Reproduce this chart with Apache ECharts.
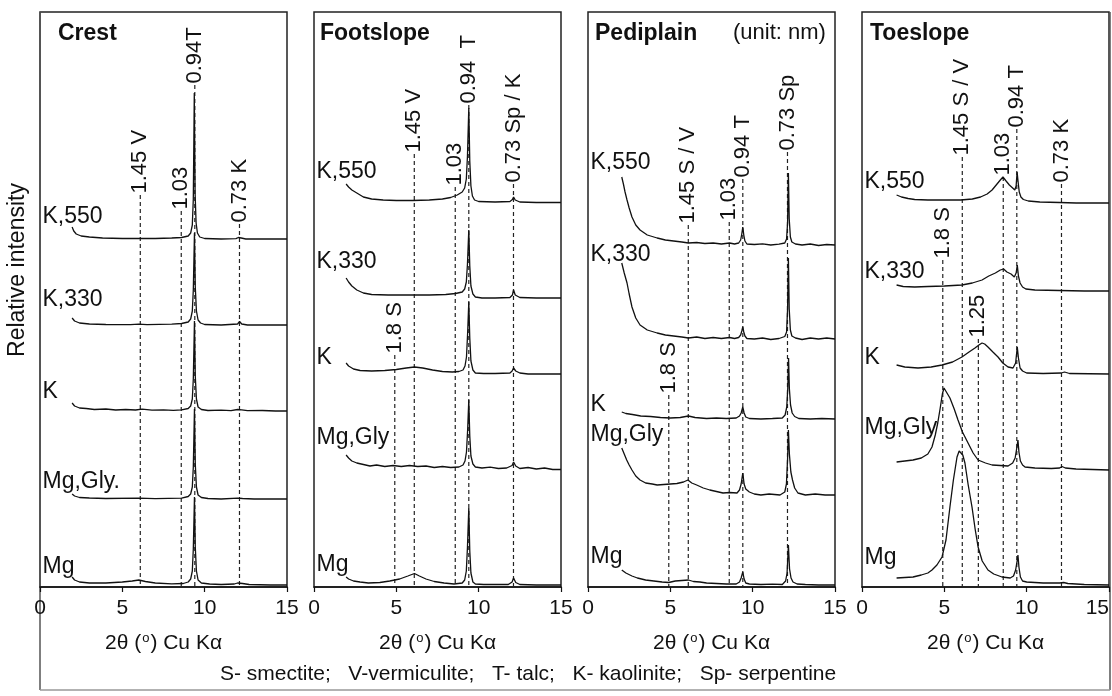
<!DOCTYPE html>
<html>
<head>
<meta charset="utf-8">
<script src="https://cdn.jsdelivr.net/npm/echarts@6/dist/echarts.min.js"></script>
<style>
html, body { margin: 0; padding: 0; background: #fff; }
#chart { width: 1112px; height: 696px; }
</style>
</head>
<body>
<div id="chart"></div>
<script>
// X-ray diffraction patterns of the clay fraction at four landscape positions.
// Each trace is [2θ (degrees), relative intensity above its stacking offset].

const panelNames = ['Crest', 'Footslope', 'Pediplain', 'Toeslope'];
const treatmentNames = [
  ['Mg', 'Mg,Gly.', 'K', 'K,330', 'K,550'],
  ['Mg', 'Mg,Gly', 'K', 'K,330', 'K,550'],
  ['Mg', 'Mg,Gly', 'K', 'K,330', 'K,550'],
  ['Mg', 'Mg,Gly', 'K', 'K,330', 'K,550']
];
const xTicks = [0, 5, 10, 15];

// stacking offsets of the five treatments (bottom to top), per panel
const crestOffsets     = [2, 88, 176, 262, 348];
const footslopeOffsets = [2, 119, 214, 291, 386];
const pediplainOffsets = [2, 93, 168, 248, 342];
const toeslopeOffsets  = [2, 117, 214, 297, 385];

// ---- Crest ----
const crestMg = [[1.95,8],[2.1,5],[2.4,3],[3,2],[4,2],[5,3],[5.6,4],[6,5],[6.4,3.5],[7,2],[8,1.2],[8.7,1.5],[9.0,3],[9.15,6],[9.25,14],[9.31,36],[9.38,88],[9.43,38],[9.5,14],[9.6,5],[9.8,2],[10.3,1],[11,0.5],[11.8,1],[12.0,2],[12.12,3.5],[12.3,1.5],[12.7,0.5],[14,0],[15,0]];
const crestMgGly = [[1.95,5],[2.1,3],[2.4,1.5],[3,1],[4,0.5],[6,0.8],[7,0.3],[8.6,0.8],[9.0,2.5],[9.15,5],[9.25,12],[9.31,32],[9.38,90],[9.43,35],[9.5,12],[9.6,4],[9.8,1.5],[10.2,0.5],[11,0],[12.0,0.8],[12.12,2],[12.3,0.5],[13,0],[15,0]];
const crestK = [[1.95,8],[2.1,5],[2.4,3],[2.8,2.5],[3.3,1.5],[4,2],[4.6,1],[5.2,1.5],[5.8,1],[6.2,1.8],[6.8,0.8],[7.5,1.2],[8.1,0.6],[8.6,1.2],[9.0,2.5],[9.15,5],[9.25,12],[9.31,32],[9.38,90],[9.43,35],[9.5,12],[9.6,4],[9.8,1.5],[10.2,0.5],[11,0.8],[11.6,0.3],[12.0,1.5],[12.12,3.5],[12.25,1.2],[12.6,0.3],[13.5,0.5],[14.3,0],[15,0]];
const crestK330 = [[1.95,7],[2.1,4],[2.4,2],[3,1],[4,0.5],[5.5,0.3],[6,0.8],[6.5,0.3],[8,0.8],[8.6,1.5],[9.0,3],[9.15,6],[9.25,14],[9.31,35],[9.38,92],[9.43,38],[9.5,14],[9.6,5],[9.75,2],[10,0.5],[11,0],[12.0,1],[12.12,3.5],[12.25,1],[12.6,0],[15,0]];
const crestK550 = [[1.95,12],[2.05,8],[2.2,5],[2.5,3],[3.0,2],[3.8,1],[5,0.5],[6,0.5],[7,0.5],[8,1],[8.6,1.5],[9.0,3],[9.15,6],[9.25,14],[9.31,40],[9.37,146],[9.42,45],[9.48,16],[9.56,6],[9.7,2],[10,0.5],[11,0],[11.9,0.3],[12.05,1.5],[12.12,3],[12.22,1],[12.5,0],[13.5,0],[15,0]];

// ---- Footslope ----
const footMg = [[1.95,8],[2.1,6],[2.4,4],[2.8,3],[3.3,2],[4,2.5],[4.6,4],[5.2,6],[5.7,9],[6.1,11.5],[6.4,9],[6.8,6],[7.3,3.5],[7.9,2],[8.5,1],[9.0,2],[9.15,5],[9.25,14],[9.32,38],[9.4,77],[9.46,34],[9.53,12],[9.65,3],[9.8,1],[10.3,0.5],[11,0.5],[11.8,0.5],[12.03,3],[12.12,7],[12.25,2.5],[12.5,0.5],[13.5,0],[15,0]];
const footMgGly = [[1.95,13],[2.1,10],[2.3,7],[2.6,5],[3.0,3.5],[3.4,2],[3.8,3],[4.3,1.5],[4.8,2.5],[5.3,1.5],[5.8,2.5],[6.3,1.5],[6.8,2],[7.3,0.5],[7.8,1.5],[8.3,0.5],[8.8,1],[9.05,3],[9.17,7],[9.26,16],[9.33,38],[9.4,68],[9.46,32],[9.53,12],[9.65,4],[9.8,1],[10.2,0],[10.7,0.8],[11.2,-0.5],[11.7,0],[12.03,2.5],[12.12,6],[12.25,2],[12.5,-0.5],[13,0.5],[13.5,-1],[14,0],[14.5,-1.5],[15,-1.5]];
const footK = [[1.95,10],[2.1,7],[2.4,4],[2.8,2.5],[3.5,2],[4.3,2.5],[5,3.5],[5.6,5],[6.1,6],[6.6,5],[7.2,3],[7.8,1.5],[8.4,1],[8.8,1.5],[9.05,3],[9.17,7],[9.26,16],[9.33,40],[9.4,71],[9.46,35],[9.53,12],[9.65,3],[9.8,0],[10.3,-0.5],[11,-0.5],[11.9,0],[12.03,2],[12.12,5],[12.25,2],[12.5,0],[13,-1],[15,-1]];
const footK330 = [[1.95,18],[2.1,14],[2.3,10],[2.6,6],[3.0,3],[3.5,1.5],[4.5,1],[6,1],[7,1],[8,1.5],[8.6,2.5],[9.0,4],[9.15,7],[9.25,14],[9.32,32],[9.4,66],[9.46,30],[9.53,10],[9.65,2],[9.8,-1],[10.2,-2],[11,-2],[11.9,-1.5],[12.05,1],[12.12,6],[12.22,1],[12.5,-1.5],[13.5,-2],[15,-2]];
const footK550 = [[1.95,17],[2.1,14],[2.3,11],[2.6,8],[3.0,4],[3.5,2],[4.2,1],[5,0.5],[6,0.5],[7,1],[7.8,2],[8.3,3.5],[8.7,6],[9.0,9],[9.15,13],[9.25,22],[9.32,45],[9.4,93],[9.46,40],[9.53,15],[9.62,5],[9.75,1],[10,-0.5],[11,-1],[11.9,-0.5],[12.05,1.5],[12.12,4],[12.22,1],[12.5,-1],[13.5,-1.5],[15,-1.5]];

// ---- Pediplain ----
const pediMg = [[2.05,15],[2.3,12],[2.67,9],[3.0,7],[3.5,5],[4.0,4],[4.5,3],[4.9,2.5],[5.3,4],[5.7,4.5],[6.1,5],[6.4,3.5],[6.8,3],[7.2,2],[7.8,1.5],[8.4,1],[9.0,1],[9.2,3],[9.3,7],[9.4,13],[9.48,6],[9.58,2],[9.8,1],[10.5,0.5],[11.2,0.8],[11.8,0.5],[12.0,4],[12.09,12],[12.17,40],[12.24,16],[12.33,7],[12.45,3],[12.7,1],[13.2,0.5],[14,0],[15,0]];
const pediMgGly = [[2.05,46],[2.2,40],[2.35,34],[2.5,29],[2.67,24],[2.9,18],[3.16,14],[3.5,11],[3.9,10],[4.2,9],[4.6,9.5],[5.0,10],[5.4,10.5],[5.8,12],[6.07,14],[6.3,11],[6.6,9],[7.0,6],[7.4,4],[7.8,2.5],[8.2,1],[8.6,1.5],[9.05,1],[9.2,4],[9.3,10],[9.4,21],[9.48,10],[9.58,5],[9.8,2],[10.1,0],[10.5,-1],[11.0,0],[11.66,-1],[11.95,2],[12.05,10],[12.12,35],[12.17,64],[12.23,40],[12.32,22],[12.42,14],[12.55,6],[12.75,1],[13.2,-1],[13.8,0],[14.4,-1],[15,-1]];
const pediK = [[2.05,7],[2.3,5.5],[2.7,4.5],[3.2,3],[3.8,2.5],[4.4,1.5],[5.0,1],[5.6,1.5],[6.1,3],[6.5,1.5],[7.2,0.5],[7.8,1],[8.4,0.5],[9.0,1],[9.2,3],[9.3,6],[9.4,12],[9.48,6],[9.58,2],[9.8,0.5],[10.5,0],[11.2,0.5],[11.8,1],[11.97,4],[12.07,12],[12.13,30],[12.18,61],[12.23,30],[12.3,14],[12.4,6],[12.55,2.5],[12.8,0.5],[13.5,0],[14.2,0.5],[15,0]];
const pediK330 = [[2.05,76],[2.2,66],[2.37,56],[2.5,45],[2.67,32],[2.9,21],[3.16,14],[3.6,9],[4.2,6],[4.7,4],[5.2,3],[5.7,2],[6.1,1],[6.6,2],[7.1,0.5],[7.6,1.5],[8.1,0.5],[8.6,1.5],[8.9,0.5],[9.15,1.5],[9.27,4],[9.34,8],[9.4,12],[9.46,7],[9.53,3],[9.65,0.5],[10.1,0],[10.6,1],[11.1,-0.5],[11.6,0.5],[11.95,2.5],[12.06,7],[12.12,30],[12.17,81],[12.22,30],[12.29,9],[12.38,3],[12.6,1],[13.0,-0.5],[13.5,1],[14.0,0],[14.5,1],[15,0]];
const pediK550 = [[2.05,68],[2.15,61],[2.25,53],[2.37,45],[2.5,37],[2.67,28],[2.9,20],[3.16,15],[3.6,10],[4.2,7],[4.7,5],[5.2,4],[5.7,3],[6.1,2],[6.6,2.5],[7.1,1.5],[7.6,2],[8.1,1],[8.6,2],[8.9,1],[9.15,2],[9.27,5],[9.34,11],[9.4,18],[9.46,10],[9.53,4],[9.65,1],[10.1,0.5],[10.6,1.2],[11.1,0],[11.6,0.8],[11.95,2],[12.06,6],[12.12,22],[12.17,72],[12.22,26],[12.29,8],[12.38,3],[12.6,1],[13.0,0],[13.5,1],[14.0,-0.5],[14.5,0.5],[15,0]];

// ---- Toeslope ----
const toeMg = [[2.1,7],[2.6,7.5],[3.1,8],[3.6,10],[4.0,12],[4.25,15],[4.55,20],[4.86,28],[5.1,45],[5.34,78],[5.55,105],[5.77,128],[5.9,134],[6.01,135],[6.12,130],[6.25,122],[6.45,100],[6.68,78],[6.87,56],[7.05,38],[7.3,24],[7.65,15],[8.0,11],[8.5,8],[9.0,7],[9.2,9],[9.33,15],[9.42,24],[9.47,30],[9.53,18],[9.62,8],[9.75,4],[10,3],[11,2],[12.0,2],[12.25,2.5],[12.5,1.5],[13.5,0.5],[15,0]];
const toeMgGly = [[2.1,8],[2.6,9],[3.1,10],[3.6,12],[4.0,16],[4.25,23],[4.45,35],[4.6,47],[4.75,62],[4.88,76],[4.98,82],[5.1,80],[5.34,72],[5.6,61],[5.83,50],[6.1,38],[6.44,27],[6.75,17],[7.05,10],[7.5,7],[7.9,5],[8.4,4.5],[8.87,4],[9.15,7],[9.3,12],[9.4,22],[9.47,30],[9.53,18],[9.62,9],[9.75,5],[9.9,3],[10.5,2],[11.5,1.5],[12.0,2],[12.15,3.5],[12.35,2],[13,1],[14,0.5],[15,0]];
const toeK = [[2.1,8],[2.6,6],[3.4,5],[4.2,6],[4.86,8],[5.5,11],[6.07,16],[6.5,21],[6.86,25],[7.1,28],[7.29,30],[7.45,29],[7.65,26],[7.95,21],[8.26,16],[8.55,10],[8.87,6],[9.17,5],[9.33,10],[9.43,26],[9.5,15],[9.6,5],[9.75,2],[10.0,0],[11,-0.5],[12.1,0],[12.3,1],[12.6,-0.5],[15,-1]];
const toeK330 = [[2.1,5],[2.5,3.5],[3.2,3],[4,3.5],[5,4],[6.07,5],[6.7,7],[7.29,10],[7.7,14],[8.1,17],[8.4,20],[8.6,21],[8.8,18],[9.05,16],[9.25,13],[9.36,17],[9.43,25],[9.5,14],[9.6,7],[9.75,3],[9.95,1],[10.5,0],[12,-0.5],[13.5,-1],[15,-1]];
const toeK550 = [[2.1,7],[2.4,5],[2.8,3.5],[3.2,2.5],[4,2],[5,2],[6,2],[6.7,3],[7.2,5],[7.6,8],[7.9,12],[8.2,18],[8.4,22],[8.56,25],[8.75,21],[8.95,17],[9.15,14],[9.28,12],[9.36,16],[9.42,30],[9.48,20],[9.55,10],[9.65,5],[9.8,2.5],[10.1,1],[10.8,0],[12,-0.5],[13,-1],[15,-1]];

// d-spacings (nm) of the reflections marked in each panel, with their labels
const crestPeaks = [
  { d: 1.45, text: '1.45 V' }, { d: 1.03, text: '1.03' },
  { d: 0.94, text: '0.94T' }, { d: 0.73, text: '0.73 K' }
];
const footslopePeaks = [
  { d: 1.8, text: '1.8 S' }, { d: 1.45, text: '1.45 V' }, { d: 1.03, text: '1.03' },
  { d: 0.94, text: '0.94  T' }, { d: 0.73, text: '0.73 Sp / K' }
];
const pediplainPeaks = [
  { d: 1.8, text: '1.8 S' }, { d: 1.45, text: '1.45 S / V' }, { d: 1.03, text: '1.03' },
  { d: 0.94, text: '0.94 T' }, { d: 0.73, text: '0.73 Sp' }
];
const toeslopePeaks = [
  { d: 1.8, text: '1.8 S' }, { d: 1.45, text: '1.45 S / V' }, { d: 1.25, text: '1.25' },
  { d: 1.03, text: '1.03' }, { d: 0.94, text: '0.94 T' }, { d: 0.73, text: '0.73 K' }
];

const legendText = 'S- smectite;   V-vermiculite;   T- talc;   K- kaolinite;   Sp- serpentine';

// ---- layout (intensity units on the hidden y axes) ----
// height at which each reflection's guide line stops and its label begins
const peakLabelHeights = [
  [392, 376, 502, 363],
  [232, 433, 400, 482, 403],
  [192, 362, 365, 408, 435],
  [327, 430, 248, 410, 458, 403]
];
// vertical anchor of each treatment name (bottom to top)
const nameHeights = [
  [20, 105, 195, 287, 370],
  [22, 149, 229, 325, 415],
  [30, 152, 182, 332, 424],
  [29, 159, 229, 315, 405]
];

const traces = [
  [crestMg, crestMgGly, crestK, crestK330, crestK550],
  [footMg, footMgGly, footK, footK330, footK550],
  [pediMg, pediMgGly, pediK, pediK330, pediK550],
  [toeMg, toeMgGly, toeK, toeK330, toeK550]
];
const offsets = [crestOffsets, footslopeOffsets, pediplainOffsets, toeslopeOffsets];
const peaks = [crestPeaks, footslopePeaks, pediplainPeaks, toeslopePeaks];

// Bragg's law, Cu Kα wavelength 0.15406 nm: d-spacing -> 2θ (degrees)
const LAMBDA = 0.15406;
function twoTheta(d) {
  return 2 * Math.asin(LAMBDA / (2 * d)) * 180 / Math.PI;
}

const FONT = '"Liberation Sans", Arial, Helvetica, sans-serif';
const INK = '#111';
const CLEAR = 'rgba(0,0,0,0)';
const gridLefts = [40, 314, 588, 862];
const gridWidth = 247;
const gridTop = 12;
const gridHeight = 575;
const yMax = 575;

const textLabel = (extra) => Object.assign({
  show: true, formatter: q => q.data[2], color: INK, fontFamily: FONT,
  opacity: 1, textBorderWidth: 0
}, extra);

const grids = [], xAxes = [], yAxes = [], series = [];

panelNames.forEach((panel, i) => {
  const last = i === panelNames.length - 1;
  grids.push({
    left: gridLefts[i], top: gridTop, width: gridWidth, height: gridHeight,
    containLabel: false, outerBoundsMode: 'none',
    show: true, borderColor: '#222', borderWidth: 1.5, backgroundColor: 'transparent'
  });
  xAxes.push({
    type: 'value', gridIndex: i, min: xTicks[0], max: xTicks[xTicks.length - 1], interval: 5,
    axisLine: { show: true, lineStyle: { color: INK, width: 1.5 } },
    axisTick: { show: true, inside: false, length: 5, lineStyle: { color: INK, width: 1.2 } },
    axisLabel: { show: true, fontSize: 21, color: INK, fontFamily: FONT, margin: 11,
                 showMinLabel: true, showMaxLabel: true, hideOverlap: false,
                 alignMaxLabel: last ? 'right' : null },
    splitLine: { show: false },
    name: '2θ ({s|o}) Cu Kα', nameLocation: 'middle', nameGap: 45,
    nameTextStyle: {
      fontSize: 21, color: INK, fontFamily: FONT,
      rich: { s: { fontSize: 13, color: INK, fontFamily: FONT, padding: [0, 1, 9, 1] } }
    }
  });
  yAxes.push({ type: 'value', gridIndex: i, min: 0, max: yMax, show: false });

  // reflection guides (dashed) and their rotated labels
  peaks[i].forEach((p, k) => {
    const x = twoTheta(p.d);
    const top = peakLabelHeights[i][k];
    series.push({
      type: 'line', xAxisIndex: i, yAxisIndex: i, silent: true, z: 2,
      showSymbol: false, symbol: 'none',
      data: [[x, top], [x, 0]],
      lineStyle: { color: '#222', width: 1.2, type: [4, 3] }
    });
  });
  series.push({
    type: 'scatter', xAxisIndex: i, yAxisIndex: i, silent: true, z: 5,
    symbolSize: 1, itemStyle: { color: CLEAR, opacity: 1 },
    data: peaks[i].map((p, k) => [twoTheta(p.d), peakLabelHeights[i][k], p.text]),
    label: textLabel({ rotate: 90, position: 'top', distance: 1,
                       align: 'left', verticalAlign: 'middle', fontSize: 22 }),
    labelLayout: { hideOverlap: false }
  });

  // diffraction traces
  traces[i].forEach((tr, j) => {
    const off = offsets[i][j];
    series.push({
      type: 'line', xAxisIndex: i, yAxisIndex: i, silent: true, z: 3,
      name: panel + ' ' + treatmentNames[i][j],
      showSymbol: false, symbol: 'none',
      data: tr.map(p => [p[0], p[1] + off]),
      lineStyle: { color: INK, width: 1.3 }
    });
  });

  // treatment names
  series.push({
    type: 'scatter', xAxisIndex: i, yAxisIndex: i, silent: true, z: 6,
    symbolSize: 1, itemStyle: { color: CLEAR, opacity: 1 },
    data: treatmentNames[i].map((n, j) => [0.12, nameHeights[i][j], n]),
    label: textLabel({ position: 'right', distance: 0,
                       align: 'left', verticalAlign: 'middle', fontSize: 23 }),
    labelLayout: { hideOverlap: false }
  });
});

const titleLefts = [58, 320, 595, 870];
const titles = panelNames.map((n, i) => ({
  text: n, left: titleLefts[i], top: 22, padding: 0,
  textStyle: { fontSize: 23, fontWeight: 'bold', color: INK, fontFamily: FONT }
}));
titles.push({
  text: '(unit: nm)', left: 733, top: 22, padding: 0,
  textStyle: { fontSize: 22, fontWeight: 'normal', color: INK, fontFamily: FONT }
});
titles.push({
  text: legendText, left: 220, top: 664, padding: 0,
  textStyle: { fontSize: 21, fontWeight: 'normal', color: INK, fontFamily: FONT }
});

const chart = echarts.init(document.getElementById('chart'), null, { renderer: 'canvas' });
chart.setOption({
  animation: false,
  backgroundColor: '#fff',
  title: titles,
  grid: grids,
  xAxis: xAxes,
  yAxis: yAxes,
  series: series,
  graphic: [
    { type: 'text', x: 18, y: 270, rotation: Math.PI / 2, silent: true,
      style: { text: 'Relative intensity', fontSize: 23, fill: INK, fontFamily: FONT,
               textAlign: 'center', textVerticalAlign: 'middle' } },
    { type: 'line', silent: true, shape: { x1: 40, y1: 12, x2: 40, y2: 690 },
      style: { stroke: '#555', lineWidth: 1.5 } },
    { type: 'line', silent: true, shape: { x1: 1110, y1: 12, x2: 1110, y2: 690 },
      style: { stroke: '#555', lineWidth: 1.5 } },
    { type: 'line', silent: true, shape: { x1: 40, y1: 690, x2: 1110, y2: 690 },
      style: { stroke: '#999', lineWidth: 1.5 } }
  ]
});
</script>
</body>
</html>
